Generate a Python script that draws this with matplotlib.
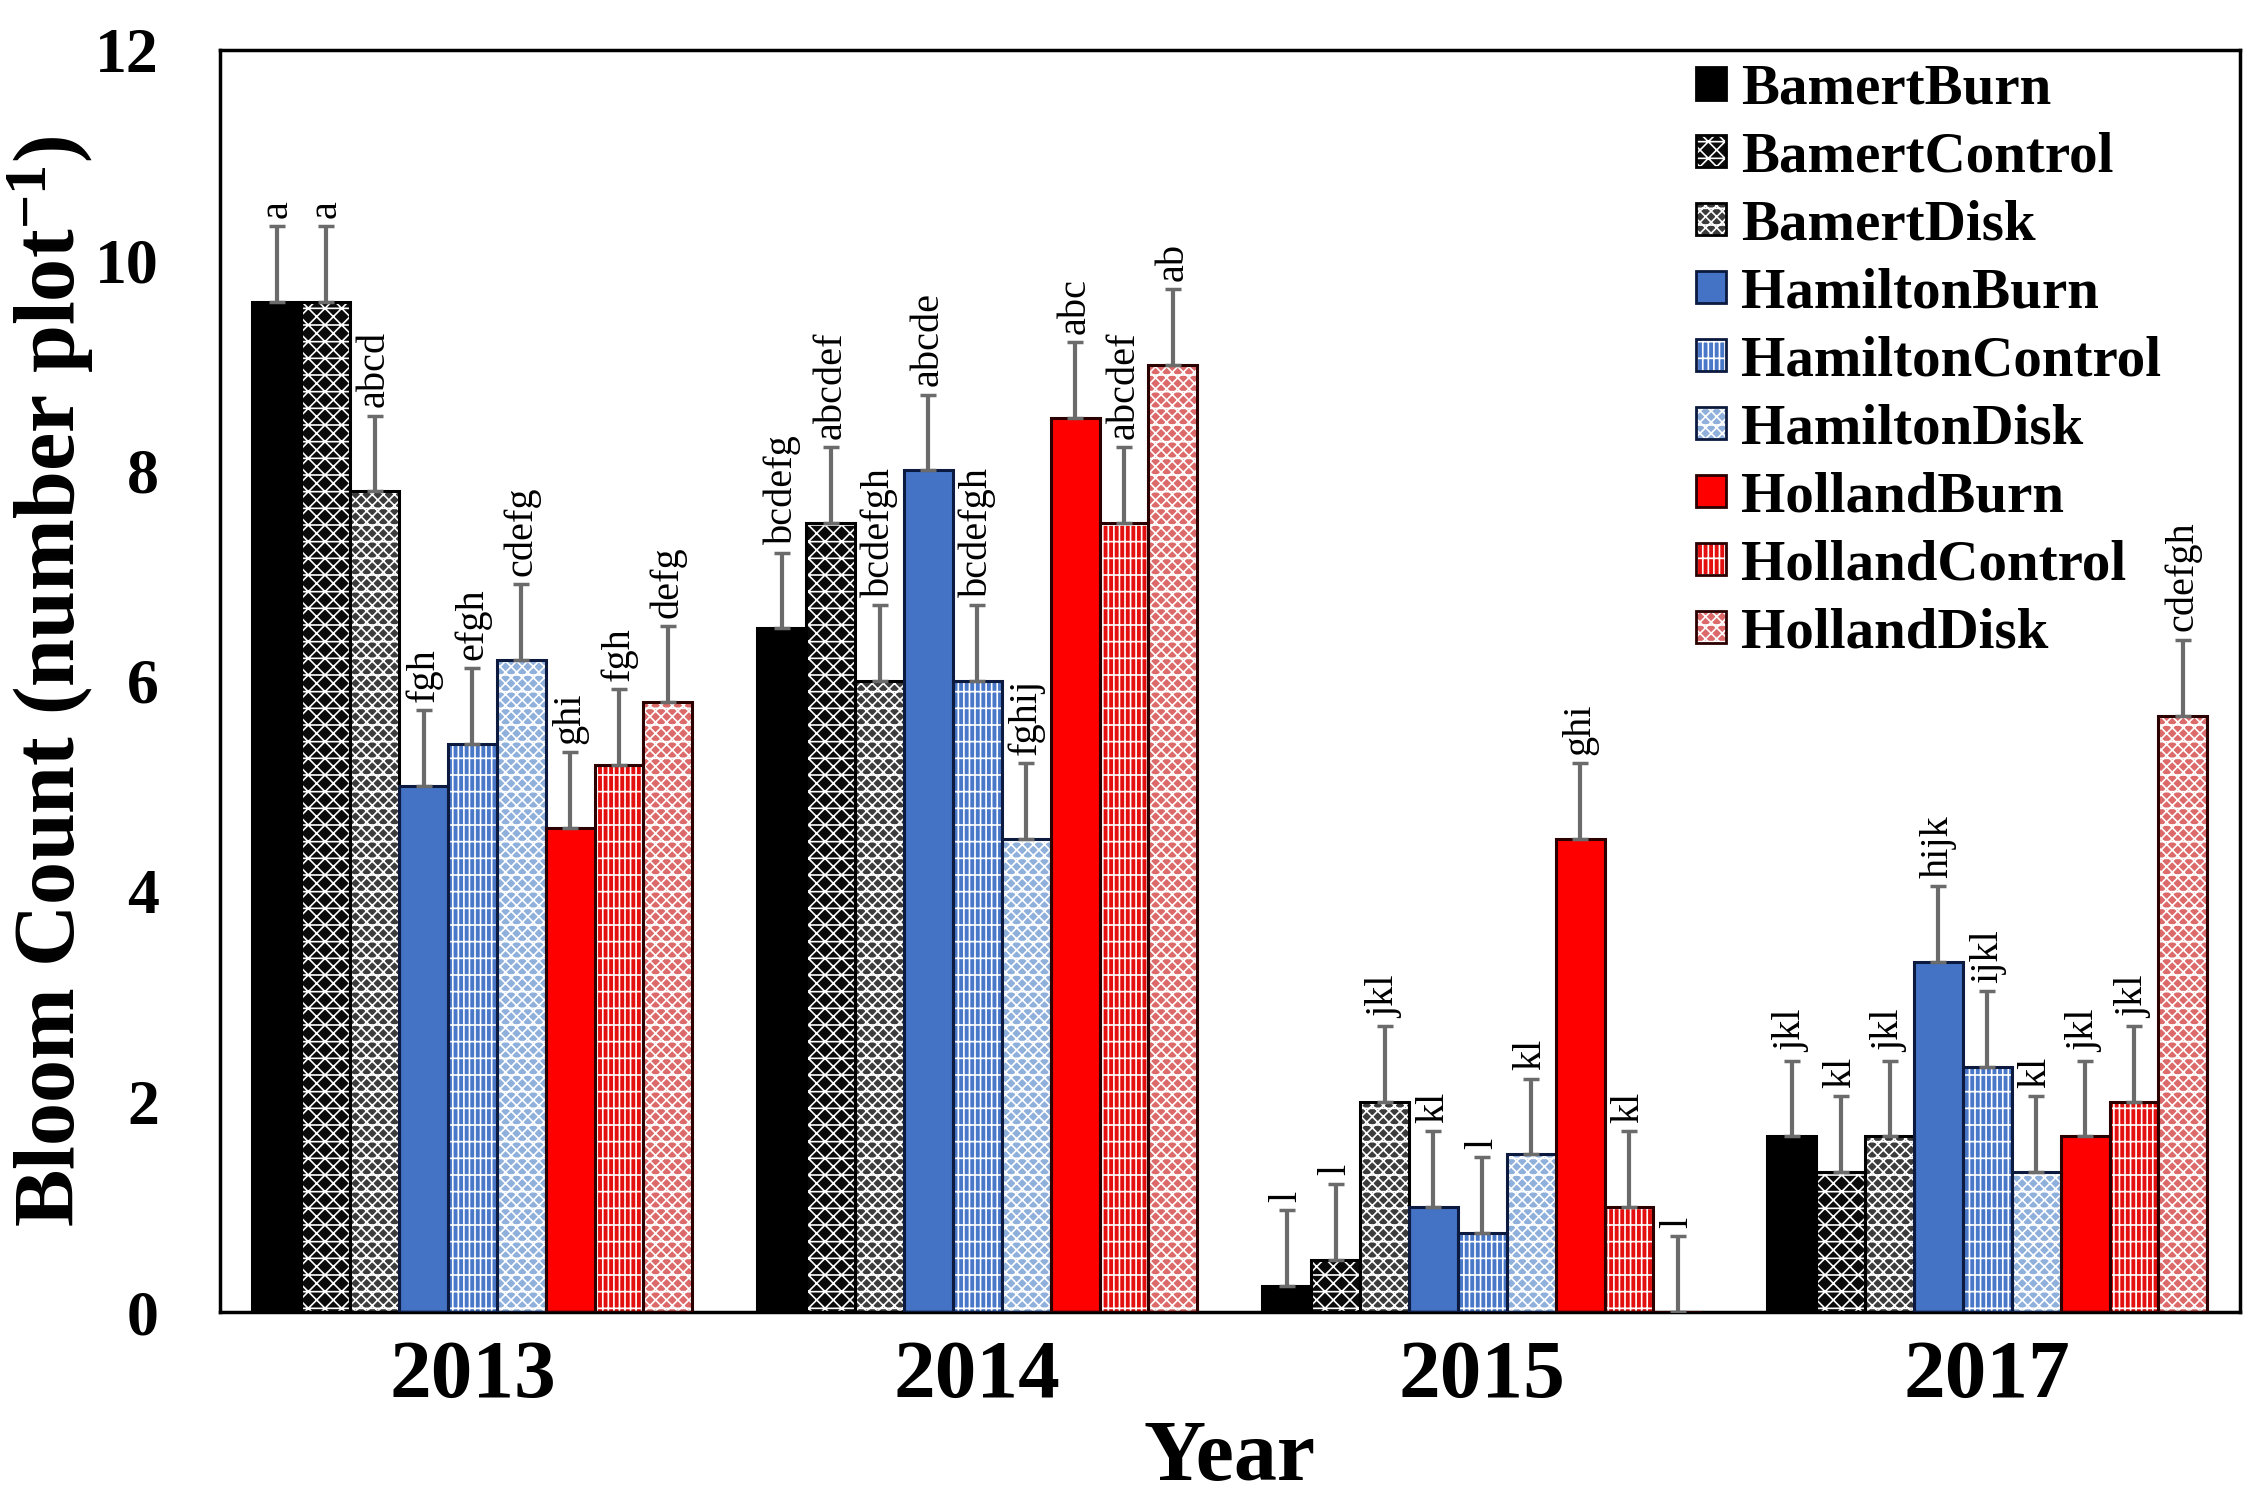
import matplotlib
matplotlib.use("Agg")
import matplotlib.pyplot as plt
from matplotlib.patches import Patch
import numpy as np

years = ["2013", "2014", "2015", "2017"]
treatments = ["BamertBurn", "BamertControl", "BamertDisk",
              "HamiltonBurn", "HamiltonControl", "HamiltonDisk",
              "HollandBurn", "HollandControl", "HollandDisk"]

bamert_burn      = [9.6, 6.5, 0.25, 1.67]
bamert_control   = [9.6, 7.5, 0.5, 1.33]
bamert_disk      = [7.8, 6.0, 2.0, 1.67]
hamilton_burn    = [5.0, 8.0, 1.0, 3.33]
hamilton_control = [5.4, 6.0, 0.75, 2.33]
hamilton_disk    = [6.2, 4.5, 1.5, 1.33]
holland_burn     = [4.6, 8.5, 4.5, 1.67]
holland_control  = [5.2, 7.5, 1.0, 2.0]
holland_disk     = [5.8, 9.0, 0.0, 5.67]
values = [bamert_burn, bamert_control, bamert_disk,
          hamilton_burn, hamilton_control, hamilton_disk,
          holland_burn, holland_control, holland_disk]

std_err = [0.72] * 9  # same SE for each treatment across years

letters_bamert_burn      = ["a", "bcdefg", "l", "jkl"]
letters_bamert_control   = ["a", "abcdef", "l", "kl"]
letters_bamert_disk      = ["abcd", "bcdefgh", "jkl", "jkl"]
letters_hamilton_burn    = ["fgh", "abcde", "kl", "hijk"]
letters_hamilton_control = ["efgh", "bcdefgh", "l", "ijkl"]
letters_hamilton_disk    = ["cdefg", "fghij", "kl", "kl"]
letters_holland_burn     = ["ghi", "abc", "ghi", "jkl"]
letters_holland_control  = ["fgh", "abcdef", "kl", "jkl"]
letters_holland_disk     = ["defg", "ab", "l", "cdefgh"]
letters = [letters_bamert_burn, letters_bamert_control, letters_bamert_disk,
           letters_hamilton_burn, letters_hamilton_control, letters_hamilton_disk,
           letters_holland_burn, letters_holland_control, letters_holland_disk]

# styles
faces   = ["#000000", "#0a0a0a", "#3c3c3c",
           "#4472C4", "#4a78c8", "#90b0dc",
           "#FF0000", "#e41010", "#dc6a6a"]
hatches = [None, "xx-", "xxx-",
           None, "+||", "xxx-",
           None, "+||", "xxx-"]
edges   = ["#000000", "#000000", "#000000",
           "#0b1a3e", "#0b1a3e", "#0b1a3e",
           "#2a0000", "#2a0000", "#2a0000"]

serif = "Liberation Serif"
plt.rcParams["font.family"] = [serif, "DejaVu Serif"]
plt.rcParams["hatch.linewidth"] = 1.2
plt.rcParams["mathtext.fontset"] = "custom"
plt.rcParams["mathtext.rm"] = serif + ":bold"
plt.rcParams["mathtext.bf"] = serif + ":bold"
plt.rcParams["mathtext.it"] = serif + ":bold"

fig = plt.figure(figsize=(22.67, 15.03), dpi=100)
ax = fig.add_axes([0.097, 0.127, 0.891, 0.840])

n = len(treatments)
width = 0.0968
xc = np.arange(len(years))

for i in range(n):
    pos = xc + (i - (n - 1) / 2) * width
    ax.bar(pos, values[i], width, color=faces[i], edgecolor="white",
           hatch=hatches[i], linewidth=0, zorder=2)
    ax.bar(pos, values[i], width, fill=False, edgecolor=edges[i],
           linewidth=2.2, zorder=3)
    errs = [std_err[i]] * len(years)
    ax.errorbar(pos, values[i], yerr=[np.zeros(len(years)), errs], fmt="none",
                ecolor="#6b6b6b", elinewidth=3, capsize=6, capthick=2.5, zorder=4)
    for j in range(len(years)):
        ax.annotate(letters[i][j], (pos[j], values[i][j] + errs[j]),
                    xytext=(0, 6), textcoords="offset points",
                    rotation=90, ha="center", va="bottom",
                    fontsize=29, family=serif, zorder=7)

ax.set_xlim(-0.5, 3.5)
ax.set_ylim(0, 12)
ax.set_yticks(np.arange(0, 13, 2))
ax.set_xticks(xc)
ax.set_xticklabels(years)
ax.tick_params(axis="both", length=0)
ax.tick_params(axis="y", pad=44, labelsize=46)
ax.tick_params(axis="x", pad=20, labelsize=60)
for lab in ax.get_xticklabels() + ax.get_yticklabels():
    lab.set_fontweight("bold")
for sp in ax.spines.values():
    sp.set_linewidth(2.5)
    sp.set_color("black")

ax.set_xlabel("Year", fontsize=62, fontweight="bold", labelpad=4)
ax.set_ylabel(r"Bloom Count (number plot$^{-1}$)", fontsize=62,
              fontweight="bold", labelpad=-1)

handles = []
for i in range(n):
    p1 = Patch(facecolor=faces[i], edgecolor="white", hatch=hatches[i], linewidth=0)
    p2 = Patch(facecolor="none", edgecolor=edges[i], linewidth=2)
    handles.append((p1, p2))
leg = ax.legend(handles, treatments, loc="upper left",
                bbox_to_anchor=(0.731, 0.989), borderaxespad=0,
                prop={"family": serif, "weight": "bold", "size": 41},
                handlelength=0.52, handleheight=0.5, handletextpad=0.27,
                labelspacing=0.28, borderpad=0, frameon=False)
leg.set_zorder(5)

fig.savefig("out.png", dpi=100)
